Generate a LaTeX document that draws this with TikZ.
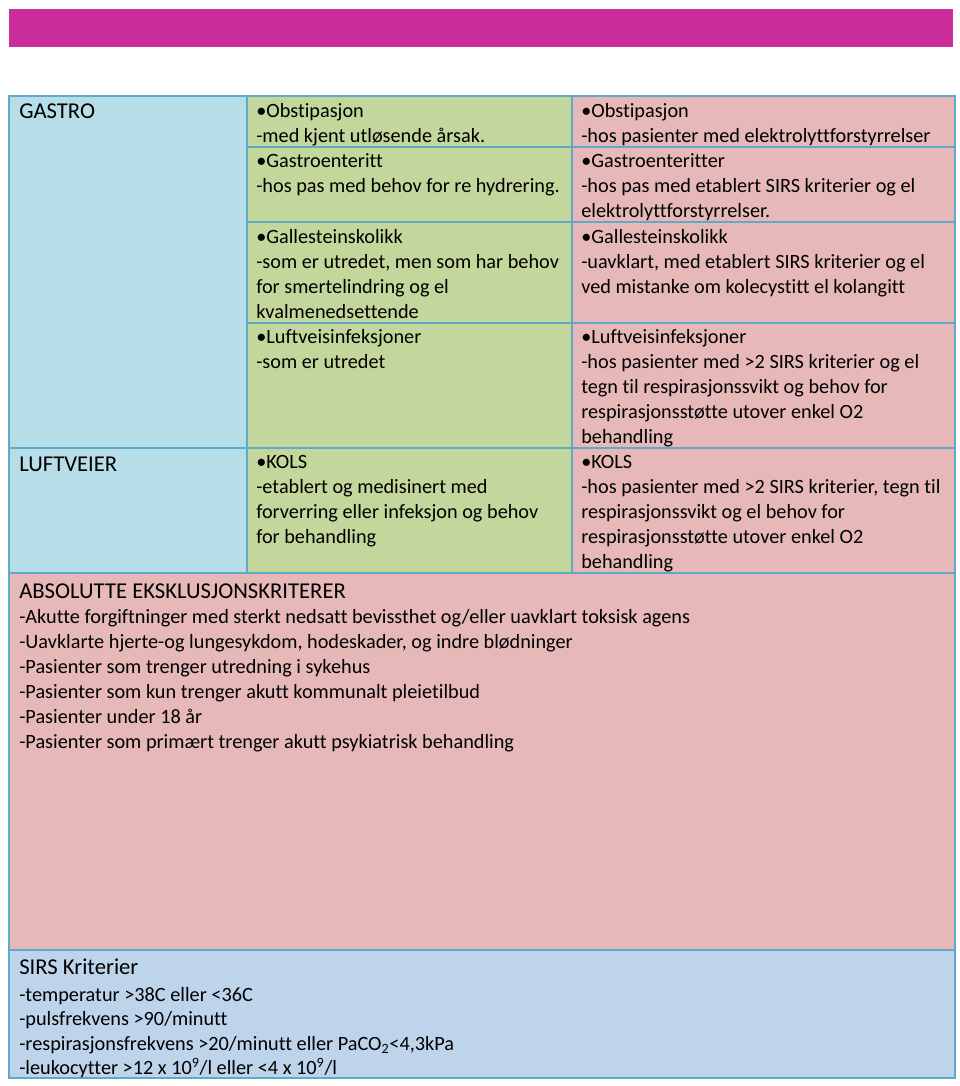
\documentclass[tikz,border=0pt]{standalone}
\usepackage{fontspec}
\setmainfont{Carlito}[Ligatures=NoCommon]
\definecolor{barmag}{RGB}{203,45,154}
\definecolor{cblue}{RGB}{183,221,232}
\definecolor{cgreen}{RGB}{195,214,155}
\definecolor{cpink}{RGB}{230,185,184}
\definecolor{csirs}{RGB}{189,212,235}
\definecolor{cline}{RGB}{95,170,200}
\begin{document}
\begin{tikzpicture}[x=0.75pt,y=-0.75pt,
  body/.style={anchor=north west, inner sep=0pt, align=left, font=\fontsize{15.2}{18.75}\selectfont, execute at begin node=\strut},
  sirsbody/.style={anchor=north west, inner sep=0pt, align=left, font=\fontsize{15.2}{18.4}\selectfont, execute at begin node=\strut},
  head/.style={anchor=base west, inner sep=0pt, font=\fontsize{17}{18.75}\selectfont},
  grid/.style={draw=cline, line width=1.1pt}]
\useasboundingbox (0,0) rectangle (960,1086);
\fill[white] (0,0) rectangle (960,1086);
% top bar
\fill[barmag] (9,9) rectangle (953,47);
% cell fills
\fill[cblue] (9,96) rectangle (247,573);
\fill[cgreen] (247,96) rectangle (572,573);
\fill[cpink] (572,96) rectangle (955,573);
\fill[cpink] (9,573) rectangle (955,950);
\fill[csirs] (9,950) rectangle (955,1078);
% grid lines
\draw[grid] (9,96) rectangle (955,1078);
\draw[grid] (247,96) -- (247,573);
\draw[grid] (572,96) -- (572,573);
\draw[grid] (247,147) -- (955,147);
\draw[grid] (247,222) -- (955,222);
\draw[grid] (247,323) -- (955,323);
\draw[grid] (9,448) -- (955,448);
\draw[grid] (9,573) -- (955,573);
\draw[grid] (9,950) -- (955,950);
% column 1
\node[head] (gastro) at (19,118) {GASTRO};
\node[head] (luft) at (19,471) {LUFTVEIER};
% column 2
\node[body] (g1) at (256,103.5) {•Obstipasjon\\-med kjent utløsende årsak.};
\node[body] (g2) at (256,153.5) {•Gastroenteritt\\-hos pas med behov for re hydrering.};
\node[body] (g3) at (256,229.5) {•Gallesteinskolikk\\-som er utredet, men som har behov\\for smertelindring og el\\kvalmenedsettende};
\node[body] (g4) at (256,329.5) {•Luftveisinfeksjoner\\-som er utredet};
\node[body] (g5) at (256,455.5) {•KOLS\\-etablert og medisinert med\\forverring eller infeksjon og behov\\for behandling};
% column 3
\node[body] (p1) at (581,103.5) {•Obstipasjon\\-hos pasienter med elektrolyttforstyrrelser};
\node[body] (p2) at (581,153.5) {•Gastroenteritter\\-hos pas med etablert SIRS kriterier og el\\elektrolyttforstyrrelser.};
\node[body] (p3) at (581,229.5) {•Gallesteinskolikk\\-uavklart, med etablert SIRS kriterier og el\\ved mistanke om kolecystitt el kolangitt};
\node[body] (p4) at (581,329.5) {•Luftveisinfeksjoner\\-hos pasienter med >2 SIRS kriterier og el\\tegn til respirasjonssvikt og behov for\\respirasjonsstøtte utover enkel O2\\behandling};
\node[body] (p5) at (581,455.5) {•KOLS\\-hos pasienter med >2 SIRS kriterier, tegn til\\respirasjonssvikt og el behov for\\respirasjonsstøtte utover enkel O2\\behandling};
% exclusion
\node[head] (abshead) at (19,598) {ABSOLUTTE EKSKLUSJONSKRITERER};
\node[body] (abs) at (19,609.5) {-Akutte forgiftninger med sterkt nedsatt bevissthet og/eller uavklart toksisk agens\\-Uavklarte hjerte-og lungesykdom, hodeskader, og indre blødninger\\-Pasienter som trenger utredning i sykehus\\-Pasienter som kun trenger akutt kommunalt pleietilbud\\-Pasienter under 18 år\\-Pasienter som primært trenger akutt psykiatrisk behandling};
% SIRS
\node[head] (sirshead) at (19,974) {SIRS Kriterier};
\node[sirsbody] (sirs) at (19,986.8) {-temperatur >38C eller <36C\\-pulsfrekvens >90/minutt\\-respirasjonsfrekvens >20/minutt eller PaCO\textsubscript{2}<4,3kPa\\-leukocytter >12 x 10\textsuperscript{9}/l eller <4 x 10\textsuperscript{9}/l};
\end{tikzpicture}
\end{document}
